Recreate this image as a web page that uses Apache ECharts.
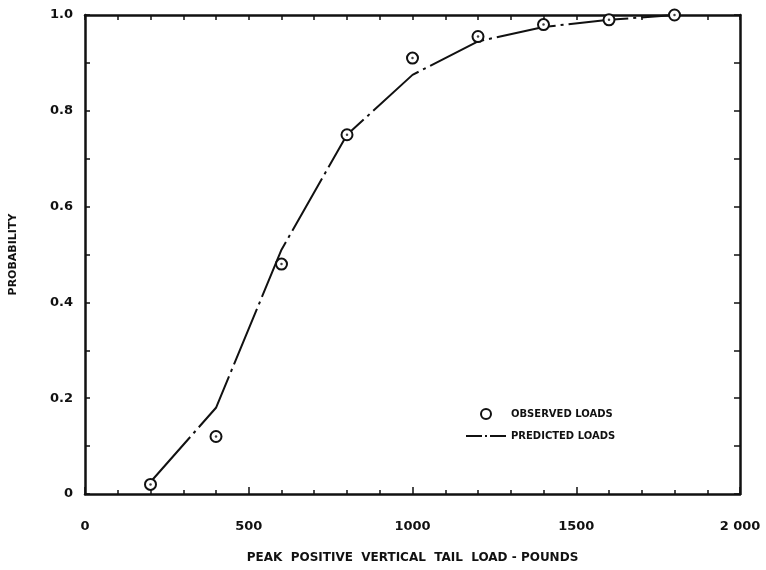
<!DOCTYPE html>
<html><head><meta charset="utf-8">
<script src="https://cdn.jsdelivr.net/npm/echarts@6/dist/echarts.min.js"></script>
<style>html,body{margin:0;padding:0;background:#fff}#c{width:766px;height:570px}</style>
</head><body><div id="c"></div>
<script>
const loads = [200, 400, 600, 800, 1000, 1200, 1400, 1600, 1800];
const observed = [0.02, 0.12, 0.48, 0.75, 0.91, 0.955, 0.98, 0.99, 1.0];
const predicted = [0.025, 0.18, 0.51, 0.75, 0.875, 0.945, 0.975, 0.99, 1.0];
const xTickLabels = {0: '0', 500: '500', 1000: '1000', 1500: '1500', 2000: '2 000'};
const yTickLabels = {0: '0', 0.2: '0.2', 0.4: '0.4', 0.6: '0.6', 0.8: '0.8', 1: '1.0'};

const ink = '#111';
const font = '"DejaVu Sans", sans-serif';
const chart = echarts.init(document.getElementById('c'));
const axisLine = {show: true, onZero: false, lineStyle: {color: ink, width: 2.5}};
chart.setOption({
  animation: false,
  backgroundColor: '#fff',
  grid: {left: 84, right: 26, top: 15, bottom: 76},
  legend: {
    orient: 'vertical', left: 460, top: 403, itemWidth: 40, itemHeight: 10, itemGap: 11,
    textStyle: {fontFamily: font, fontWeight: 'bold', fontSize: 10, color: ink},
    data: [
      {name: 'OBSERVED LOADS', icon: 'circle', itemStyle: {color: '#fff', borderColor: ink, borderWidth: 2}},
      {name: 'PREDICTED LOADS', itemStyle: {opacity: 0}, lineStyle: {type: [16, 3, 2, 3], width: 2, color: ink}}
    ]
  },
  xAxis: [{
    type: 'value', min: 0, max: 2000, interval: 500,
    name: 'PEAK  POSITIVE  VERTICAL  TAIL  LOAD - POUNDS', nameLocation: 'middle', nameGap: 58,
    nameTextStyle: {fontFamily: font, fontWeight: 'bold', fontSize: 12, color: ink},
    axisLine: axisLine,
    axisTick: {show: true, inside: true, length: 7, lineStyle: {color: ink, width: 1.5}},
    minorTick: {show: true, splitNumber: 5, length: 4, lineStyle: {color: ink, width: 1.5}},
    axisLabel: {margin: 26, fontFamily: font, fontWeight: 'bold', fontSize: 13, color: ink,
      formatter: v => xTickLabels[v] ?? ''},
    splitLine: {show: false}
  }, {
    type: 'value', min: 0, max: 2000, interval: 100, position: 'top',
    axisLine: axisLine,
    axisTick: {show: true, inside: true, length: 5, lineStyle: {color: ink, width: 1.5}},
    axisLabel: {show: false}, splitLine: {show: false}
  }],
  yAxis: [{
    type: 'value', min: 0, max: 1, interval: 0.2,
    name: 'PROBABILITY', nameLocation: 'middle', nameGap: 66,
    nameTextStyle: {fontFamily: font, fontWeight: 'bold', fontSize: 11, color: ink},
    axisLine: axisLine,
    axisTick: {show: true, inside: true, length: 5, lineStyle: {color: ink, width: 1.5}},
    minorTick: {show: true, splitNumber: 2, length: 5, lineStyle: {color: ink, width: 1.5}},
    axisLabel: {margin: 12, fontFamily: font, fontWeight: 'bold', fontSize: 13, color: ink,
      formatter: v => yTickLabels[Math.round(v * 10) / 10] ?? ''},
    splitLine: {show: false}
  }, {
    type: 'value', min: 0, max: 1, interval: 0.1, position: 'right',
    axisLine: axisLine,
    axisTick: {show: true, inside: true, length: 6, lineStyle: {color: ink, width: 1.5}},
    axisLabel: {show: false}, splitLine: {show: false}
  }],
  series: [{
    name: 'PREDICTED LOADS', type: 'line', symbol: 'none',
    data: loads.map((x, i) => [x, predicted[i]]),
    itemStyle: {color: ink},
    lineStyle: {color: ink, width: 2, type: [60, 5, 3, 5]}, z: 2
  }, {
    name: 'OBSERVED LOADS', type: 'scatter', symbol: 'circle', symbolSize: 11,
    data: loads.map((x, i) => [x, observed[i]]),
    itemStyle: {color: '#fff', borderColor: ink, borderWidth: 2, opacity: 1}, z: 3
  }, {
    type: 'scatter', symbol: 'circle', symbolSize: 2.5,
    data: loads.map((x, i) => [x, observed[i]]),
    itemStyle: {color: ink}, z: 4, silent: true
  }]
});
</script></body></html>
